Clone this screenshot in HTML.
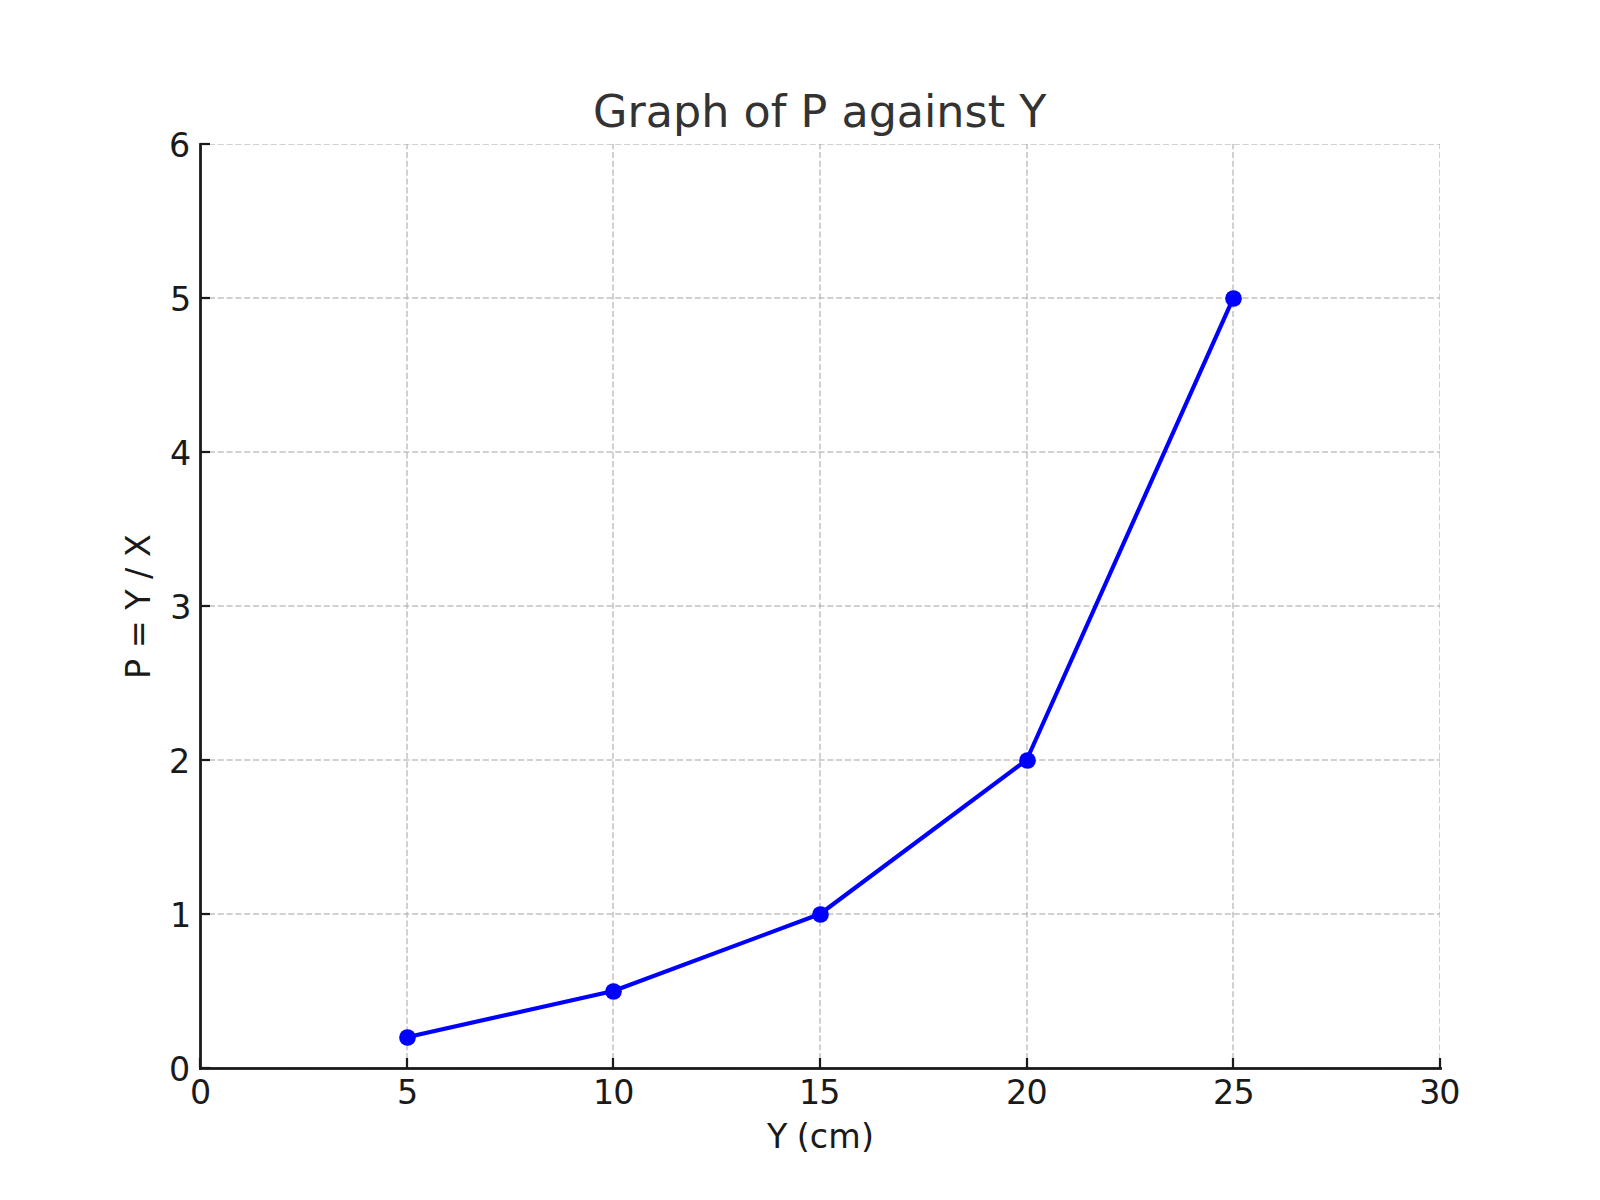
<!DOCTYPE html>
<html lang="en"><head><meta charset="utf-8"><title>Graph of P against Y</title>
<style>html,body{margin:0;padding:0;background:#fff;overflow:hidden}svg{display:block}text{font-family:"DejaVu Sans","Liberation Sans",sans-serif;white-space:pre}</style></head><body>
<svg width="1600" height="1200" viewBox="0 0 1600 1200">
<rect width="1600" height="1200" fill="#fff"/>
<defs><clipPath id="ax"><rect x="200" y="144" width="1240" height="924"/></clipPath></defs>
<!-- grid -->
<g clip-path="url(#ax)" fill="none" stroke="#b0b0b0" stroke-opacity="0.7" stroke-width="1.667" stroke-dasharray="6.167 2.667">
<path d="M200 1068V144"/>
<path d="M407 1068V144"/>
<path d="M613 1068V144"/>
<path d="M820 1068V144"/>
<path d="M1027 1068V144"/>
<path d="M1233 1068V144"/>
<path d="M1440 1068V144"/>
<g stroke-opacity="0.778">
<path d="M200 1068H1440"/>
<path d="M200 914H1440"/>
<path d="M200 760H1440"/>
<path d="M200 606H1440"/>
<path d="M200 452H1440"/>
<path d="M200 298H1440"/>
<path d="M200 144H1440"/>
</g></g>
<!-- data line and markers -->
<g clip-path="url(#ax)"><polyline points="406.67,1037.20 613.33,991.00 820.00,914.00 1026.67,760.00 1233.33,298.00" fill="none" stroke="#0000ff" stroke-width="4.167" stroke-linejoin="round" stroke-linecap="square"/>
<circle cx="407.5" cy="1037.5" r="8.333" fill="#0000ff"/>
<circle cx="613.5" cy="991.5" r="8.333" fill="#0000ff"/>
<circle cx="820.5" cy="914.5" r="8.333" fill="#0000ff"/>
<circle cx="1027.5" cy="760.5" r="8.333" fill="#0000ff"/>
<circle cx="1233.5" cy="298.5" r="8.333" fill="#0000ff"/>
</g>
<!-- ticks -->
<g stroke="#1a1a1a" stroke-width="2.222" fill="none">
<path d="M200 1068v-10"/>
<path d="M407 1068v-10"/>
<path d="M613 1068v-10"/>
<path d="M820 1068v-10"/>
<path d="M1027 1068v-10"/>
<path d="M1233 1068v-10"/>
<path d="M1440 1068v-10"/>
<path d="M200 1068h10"/>
<path d="M200 914h10"/>
<path d="M200 760h10"/>
<path d="M200 606h10"/>
<path d="M200 452h10"/>
<path d="M200 298h10"/>
<path d="M200 144h10"/>
</g>
<!-- spines -->
<g fill="#1a1a1a"><rect x="199.111" y="143.111" width="2.778" height="926.778"/><rect x="199.111" y="1067.111" width="1242.778" height="2.778"/></g>
<!-- labels -->
<text x="189.90" y="1104.00" font-size="33.333px" fill="#1a1a1a">0</text>
<text x="396.96" y="1104.00" font-size="33.333px" fill="#1a1a1a">5</text>
<text x="592.93 613.13" y="1104.00" font-size="33.333px" fill="#1a1a1a">10</text>
<text x="798.89 819.20" y="1104.00" font-size="33.333px" fill="#1a1a1a">15</text>
<text x="1005.96 1026.47" y="1104.00" font-size="33.333px" fill="#1a1a1a">20</text>
<text x="1212.93 1233.43" y="1104.00" font-size="33.333px" fill="#1a1a1a">25</text>
<text x="1419.19 1439.20" y="1104.00" font-size="33.333px" fill="#1a1a1a">30</text>
<text x="169.07" y="1081.00" font-size="33.333px" fill="#1a1a1a">0</text>
<text x="169.97" y="927.00" font-size="33.333px" fill="#1a1a1a">1</text>
<text x="168.97" y="773.00" font-size="33.333px" fill="#1a1a1a">2</text>
<text x="170.17" y="619.00" font-size="33.333px" fill="#1a1a1a">3</text>
<text x="169.97" y="465.00" font-size="33.333px" fill="#1a1a1a">4</text>
<text x="169.97" y="311.00" font-size="33.333px" fill="#1a1a1a">5</text>
<text x="168.97" y="157.00" font-size="33.333px" fill="#1a1a1a">6</text>
<text x="766.92 786.48 796.68 809.68 828.21 860.88" y="1148.00" font-size="33.333px" fill="#1a1a1a">Y (cm)</text>
<text transform="translate(149.5 606.5) rotate(-90)" x="-72.62 -52.32 -41.82 -13.79 -3.30 17.16 27.46 38.99 49.48" y="0" font-size="33.333px" fill="#1a1a1a">P = Y / X</text>
<text x="592.90 627.44 645.71 672.95 701.16 729.33 743.45 770.64 786.29 800.42 827.22 841.45 868.68 896.69 923.93 936.18 964.54 987.70 1005.13 1019.15" y="127.00" font-size="44.444px" fill="#333333">Graph of P against Y</text>
</svg></body></html>
